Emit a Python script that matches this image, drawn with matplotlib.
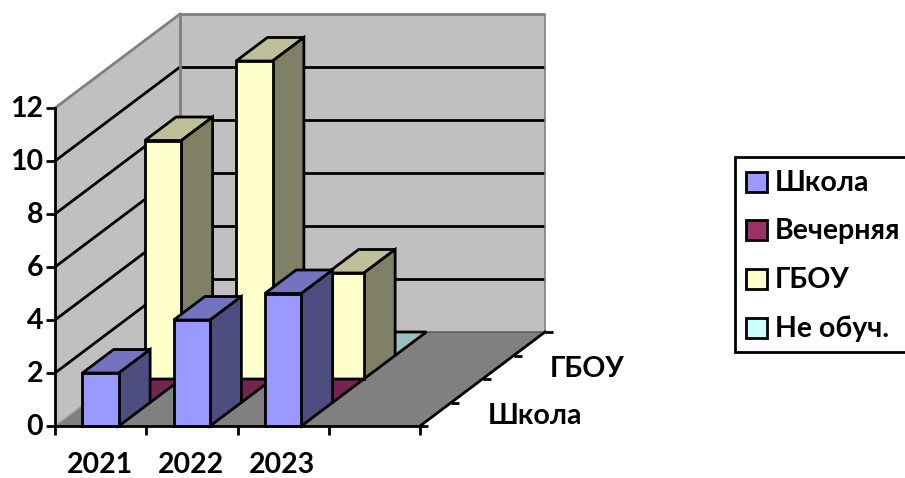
import matplotlib
matplotlib.use("Agg")
import matplotlib.pyplot as plt
from matplotlib.patches import Polygon, Rectangle

# данные
years = ["2021", "2022", "2023", ""]
series_names = ["Школа", "Вечерняя", "ГБОУ", "Не обуч."]
school = [2, 4, 5]
evening = [0, 0, 0]
gbou = [9, 12, 4]
no_study = [0, 0, 0]
y_ticks = [0, 2, 4, 6, 8, 10, 12]

all_series = [school, evening, gbou, no_study]
front_colors = ["#9999FF", "#993366", "#FFFFCC", "#CCFFFF"]
top_colors = ["#7373BF", "#73264D", "#BFBF99", "#99BFBF"]
side_colors = ["#4D4D80", "#4D1A33", "#808066", "#668080"]

plt.rcParams["font.family"] = ["Lato", "Noto Sans"]
plt.rcParams["font.weight"] = "bold"
FS = 20.5

fig = plt.figure(figsize=(9.05, 4.78), dpi=100)
ax = fig.add_axes([0, 0, 1, 1])
ax.set_xlim(0, 905)
ax.set_ylim(478, 0)
ax.axis("off")

# косая проекция: категория, глубина, значение -> пиксели
X0, Y0 = 55, 426
CAT_W = 91.25
DEPTH_X, DEPTH_Y = 31.25, -23.5
UNIT = 26.5

# порядок рисования как у художника
order = [1]


def next_z():
    order[0] += 1
    return order[0]


def proj(cat, depth, val):
    return (X0 + cat * CAT_W + depth * DEPTH_X, Y0 + depth * DEPTH_Y - val * UNIT)


def face(points, color, edge="black", lw=2.0):
    ax.add_patch(Polygon(points, closed=True, facecolor=color, edgecolor=edge, linewidth=lw, joinstyle="miter", zorder=next_z()))


def line(p1, p2, color="black", lw=2.0, cap="butt"):
    ax.plot([p1[0], p2[0]], [p1[1], p2[1]], color=color, lw=lw, solid_capstyle=cap, zorder=next_z())


n_cat = len(years)
n_depth = len(series_names)
top_val = y_ticks[-1]
grey = "#808080"

# стены и пол
face([proj(0, 0, 0), proj(0, n_depth, 0), proj(0, n_depth, top_val), proj(0, 0, top_val)], "#C0C0C0", "none", 0)
face([proj(0, n_depth, 0), proj(n_cat, n_depth, 0), proj(n_cat, n_depth, top_val), proj(0, n_depth, top_val)], "#C0C0C0", "none", 0)
face([proj(0, 0, 0), proj(n_cat, 0, 0), proj(n_cat, n_depth, 0), proj(0, n_depth, 0)], "#808080", "none", 0)

# сетка
for v in y_ticks[1:-1]:
    line(proj(0, 0, v), proj(0, n_depth, v))
    line(proj(0, n_depth, v), proj(n_cat, n_depth, v))
line(proj(0, 0, top_val), proj(0, n_depth, top_val), grey, cap="projecting")
line(proj(0, n_depth, top_val), proj(n_cat, n_depth, top_val), grey)
line(proj(0, n_depth, 0), proj(0, n_depth, top_val), grey)
line(proj(n_cat, n_depth, 0), proj(n_cat, n_depth, top_val), grey, 1.2)
line(proj(0, 0, 0), proj(0, n_depth, 0), "#A0A0A0", 1.0)
line(proj(0, n_depth, 0), proj(n_cat, n_depth, 0), "#606060", 1.2)

# столбцы, от дальнего ряда к ближнему
GAP = 0.3
for d in range(n_depth - 1, -1, -1):
    values = all_series[d]
    for c, v in enumerate(values):
        a, b = c + GAP, c + 1 - GAP
        face([proj(a, d, v), proj(b, d, v), proj(b, d + 1, v), proj(a, d + 1, v)], top_colors[d])
        if v > 0:
            face([proj(b, d, 0), proj(b, d + 1, 0), proj(b, d + 1, v), proj(b, d, v)], side_colors[d])
            face([proj(a, d, 0), proj(b, d, 0), proj(b, d, v), proj(a, d, v)], front_colors[d])

# оси
line(proj(0, 0, 0), proj(0, 0, top_val), cap="projecting")
line(proj(0, 0, 0), proj(n_cat, 0, 0), cap="projecting")
line(proj(n_cat, 0, 0), proj(n_cat, n_depth, 0), cap="projecting")
TICK = 9
for v in y_ticks:
    x, y = proj(0, 0, v)
    line((x - TICK, y), (x, y))
    ax.text(43, y + 1, str(v), ha="right", va="center", fontsize=FS, color="black", zorder=100)
for c in range(n_cat + 1):
    x, y = proj(c, 0, 0)
    line((x, y), (x, y + TICK))
for c, name in enumerate(years):
    if name:
        x, y = proj(c + 0.5, 0, 0)
        ax.text(x - 1, 465, name, ha="center", va="center", fontsize=FS, color="black", zorder=100)
for d in range(n_depth + 1):
    x, y = proj(n_cat, d, 0)
    line((x, y), (x + 8, y))
for d in range(0, n_depth, 2):
    x, y = proj(n_cat, d + 0.5, 0)
    ax.text(x + 52, y + 2, series_names[d], ha="left", va="center", fontsize=FS, color="black", zorder=100)

# легенда
ax.add_patch(Rectangle((735, 157), 172, 195, facecolor="white", edgecolor="black", linewidth=2.0, zorder=200))
legend_y = [182, 230, 279, 328]
for name, color, y in zip(series_names, front_colors, legend_y):
    ax.add_patch(Rectangle((746, y - 10), 21, 20, facecolor=color, edgecolor="black", linewidth=2.0, zorder=201))
    ax.text(775, y + 1, name, ha="left", va="center", fontsize=FS, color="black", zorder=201)

fig.savefig("out.png", dpi=100)
